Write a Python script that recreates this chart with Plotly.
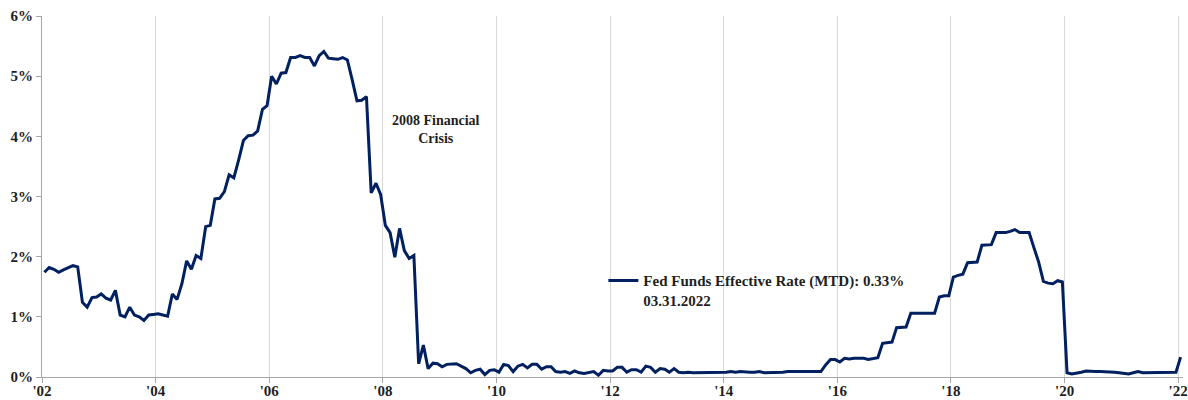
import pandas as pd
import plotly.graph_objects as go

# Monthly effective fed funds rate (MTD, %), Mar 2002 through Mar 2022
rate_2002_2004 = [1.74, 1.82, 1.79, 1.74, 1.78, 1.82, 1.85, 1.83, 1.24, 1.16, 1.32, 1.33,
                  1.38, 1.31, 1.28, 1.44, 1.03, 1.00, 1.16, 1.03, 1.00, 0.94, 1.03, 1.04]
rate_2004_2006 = [1.05, 1.03, 1.01, 1.38, 1.29, 1.55, 1.93, 1.79, 2.02, 1.97, 2.50, 2.52,
                  2.96, 2.97, 3.08, 3.36, 3.31, 3.61, 3.93, 4.01, 4.02, 4.09, 4.45, 4.51]
rate_2006_2008 = [5.00, 4.87, 5.05, 5.06, 5.31, 5.31, 5.34, 5.31, 5.31, 5.17, 5.34, 5.41,
                  5.30, 5.29, 5.28, 5.31, 5.27, 4.94, 4.59, 4.60, 4.66, 3.06, 3.22, 3.03]
rate_2008_2010 = [2.52, 2.40, 1.99, 2.47, 2.10, 1.97, 2.02, 0.22, 0.53, 0.14, 0.23, 0.22,
                  0.17, 0.21, 0.21, 0.22, 0.18, 0.14, 0.07, 0.11, 0.13, 0.04, 0.11, 0.12]
rate_2010_2012 = [0.08, 0.21, 0.19, 0.09, 0.18, 0.21, 0.15, 0.21, 0.21, 0.13, 0.17, 0.17,
                  0.09, 0.08, 0.09, 0.06, 0.10, 0.07, 0.06, 0.08, 0.09, 0.03, 0.11, 0.10]
rate_2012_2014 = [0.10, 0.16, 0.16, 0.08, 0.12, 0.12, 0.08, 0.18, 0.16, 0.08, 0.14, 0.13,
                  0.08, 0.14, 0.08, 0.07, 0.08, 0.07, 0.07, 0.07, 0.07, 0.07, 0.07, 0.07]
rate_2014_2016 = [0.08, 0.09, 0.08, 0.09, 0.08, 0.08, 0.08, 0.09, 0.07, 0.07, 0.07, 0.07,
                  0.08, 0.09, 0.09, 0.09, 0.09, 0.09, 0.08, 0.08, 0.09, 0.20, 0.29, 0.29]
rate_2016_2018 = [0.25, 0.31, 0.30, 0.31, 0.31, 0.31, 0.29, 0.31, 0.32, 0.56, 0.57, 0.58,
                  0.82, 0.82, 0.83, 1.06, 1.06, 1.06, 1.05, 1.05, 1.06, 1.33, 1.35, 1.35]
rate_2018_2020 = [1.66, 1.69, 1.71, 1.90, 1.90, 1.91, 2.19, 2.20, 2.20, 2.40, 2.40, 2.40,
                  2.42, 2.45, 2.40, 2.40, 2.40, 2.15, 1.91, 1.59, 1.56, 1.55, 1.60, 1.58]
rate_2020_2022 = [0.07, 0.05, 0.06, 0.08, 0.10, 0.09, 0.09, 0.09, 0.09, 0.09, 0.08, 0.07,
                  0.06, 0.05, 0.07, 0.09, 0.07, 0.07, 0.07, 0.07, 0.07, 0.08, 0.08, 0.08]
rate_latest = [0.33]

rates = (rate_2002_2004 + rate_2004_2006 + rate_2006_2008 + rate_2008_2010 +
         rate_2010_2012 + rate_2012_2014 + rate_2014_2016 + rate_2016_2018 +
         rate_2018_2020 + rate_2020_2022 + rate_latest)
months = pd.date_range("2002-03-31", periods=len(rates), freq="ME")

series_name = "Fed Funds Effective Rate (MTD): 0.33%<br>03.31.2022"
crisis_label = "2008 Financial<br>Crisis"

NAVY = "#002060"
AXIS_GREY = "#a6a6a6"
GRID_GREY = "#d9d9d9"
TEXT = "#1f1f1f"
SERIF = "Liberation Serif"

fig = go.Figure()
fig.add_trace(go.Scatter(
    x=months, y=rates, mode="lines", name=series_name,
    xperiod="M1", xperiodalignment="middle",
    line=dict(color=NAVY, width=3),
))

fig.add_annotation(
    text=crisis_label, xref="paper", yref="y", x=0.345, y=4.12,
    xanchor="center", yanchor="middle",
    showarrow=False, align="center",
    font=dict(family=SERIF, size=14, color=TEXT, weight="bold"),
)

fig.update_layout(
    width=1188, height=400,
    margin=dict(l=42, r=5, t=16, b=23),
    plot_bgcolor="white", paper_bgcolor="white",
    showlegend=True,
    legend=dict(
        x=0.492, y=0.312, xanchor="left", yanchor="top",
        bgcolor="rgba(0,0,0,0)", borderwidth=0, valign="top",
        font=dict(family=SERIF, size=15, color=TEXT, weight="bold"),
    ),
    xaxis=dict(
        type="date", range=["2002-03-01", "2022-04-01"],
        tick0="2002-03-01", dtick="M24", tickformat="'%y",
        showgrid=True, gridcolor=GRID_GREY, gridwidth=1,
        showline=True, linecolor=AXIS_GREY, linewidth=1,
        ticks="outside", ticklen=5, tickcolor=AXIS_GREY,
        ticklabelstandoff=-5,
        tickfont=dict(family=SERIF, size=15, color=TEXT, weight="bold"),
        zeroline=False, automargin=False,
    ),
    yaxis=dict(
        range=[0, 6], dtick=1, ticksuffix="%",
        showgrid=False,
        showline=True, linecolor=AXIS_GREY, linewidth=1,
        ticks="outside", ticklen=5, tickcolor=AXIS_GREY,
        tickfont=dict(family=SERIF, size=15, color=TEXT, weight="bold"),
        zeroline=False, automargin=False,
    ),
)

fig.write_html("out.html")
